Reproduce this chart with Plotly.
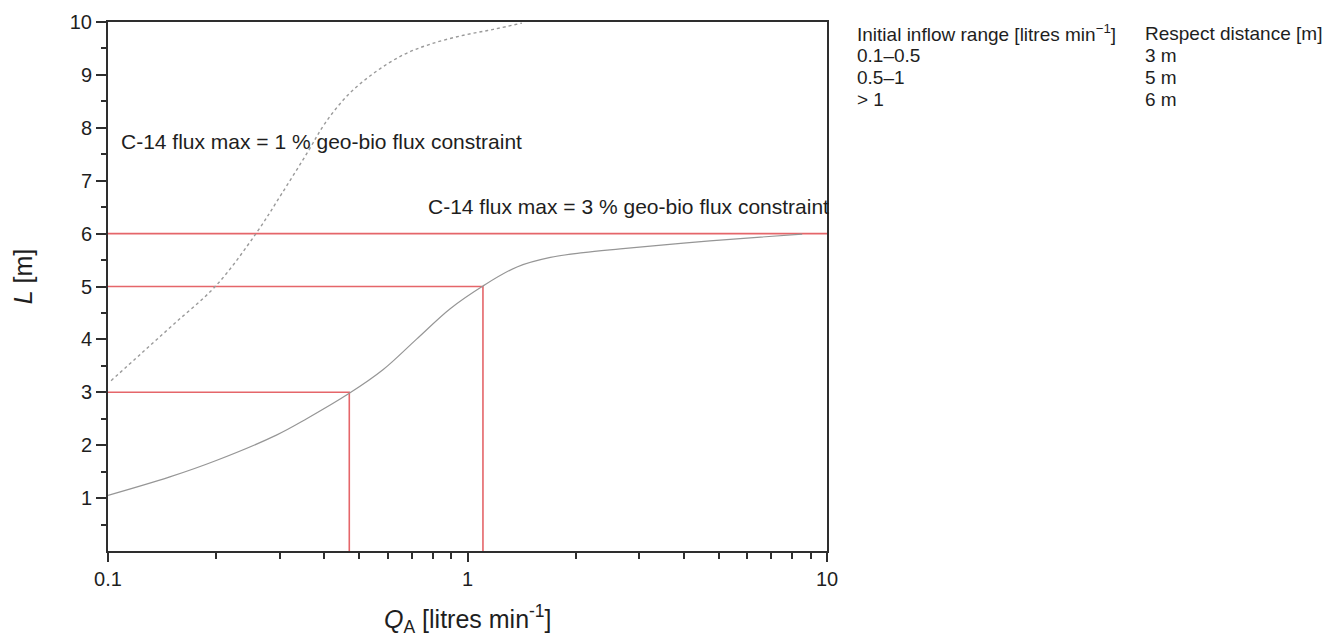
import plotly.graph_objects as go

# 3 % geo-bio flux constraint (solid curve)
q_3pct = [0.1, 0.1486, 0.2, 0.294, 0.357, 0.469, 0.583, 0.723, 0.895, 1.104,
          1.373, 1.70, 2.10, 2.66, 3.99, 6.12, 8.53]
l_3pct = [1.05, 1.40, 1.71, 2.19, 2.50, 2.98, 3.43, 4.01, 4.58, 5.01,
          5.37, 5.55, 5.64, 5.71, 5.82, 5.92, 5.99]

# 1 % geo-bio flux constraint (dotted curve)
q_1pct = [0.102, 0.1236, 0.1531, 0.2, 0.258, 0.304, 0.36, 0.401, 0.465, 0.553,
          0.663, 0.787, 0.975, 1.18, 1.417]
l_1pct = [3.22, 3.73, 4.30, 5.02, 6.0, 6.75, 7.55, 8.08, 8.62, 9.05,
          9.38, 9.58, 9.75, 9.86, 9.98]

# respect distance read-offs
q_thresh = [0.469, 1.104]
l_thresh = [3, 5]
q_min, q_max = 0.1, 10
l_full = 6

# table
table_col1 = ["Initial inflow range [litres min<sup>−1</sup>]", "0.1–0.5", "0.5–1", "> 1"]
table_col2 = ["Respect distance [m]", "3 m", "5 m", "6 m"]

x_ticks = [0.1, 1, 10]
x_ticktext = ["0.1", "1", "10"]
x_minor = [0.2, 0.3, 0.4, 0.5, 0.6, 0.7, 0.8, 0.9, 2, 3, 4, 5, 6, 7, 8, 9]
y_ticks = [1, 2, 3, 4, 5, 6, 7, 8, 9, 10]
y_minor = [0.5, 1.5, 2.5, 3.5, 4.5, 5.5, 6.5, 7.5, 8.5, 9.5]

FONT = "Liberation Sans, Arial, Helvetica, sans-serif"
RED = "#e5666a"
TXT = "#1e1e1e"
AX = "#2e2e2e"

fig = go.Figure()

# red read-off lines
fig.add_trace(go.Scatter(x=[q_min, q_max], y=[l_full, l_full], mode="lines",
                         line=dict(color=RED, width=1.6), hoverinfo="skip", showlegend=False))
for q, l in zip(q_thresh, l_thresh):
    fig.add_trace(go.Scatter(x=[q_min, q, q], y=[l, l, 0], mode="lines",
                             line=dict(color=RED, width=1.6), hoverinfo="skip", showlegend=False))

fig.add_trace(go.Scatter(x=q_1pct, y=l_1pct, mode="lines", line_shape="spline",
                         line=dict(color="#9a9a9a", width=1.4, dash="3px,3px"),
                         showlegend=False))
fig.add_trace(go.Scatter(x=q_3pct, y=l_3pct, mode="lines", line_shape="spline",
                         line=dict(color="#969696", width=1.2), showlegend=False))

annotations = [
    dict(text="C-14 flux max = 1 % geo-bio flux constraint", xref="paper", yref="paper",
         x=0.0153, y=0.774, xanchor="left", yanchor="middle", showarrow=False,
         font=dict(family=FONT, size=21, color=TXT)),
    dict(text="C-14 flux max = 3 % geo-bio flux constraint", xref="paper", yref="paper",
         x=0.442, y=0.651, xanchor="left", yanchor="middle", showarrow=False,
         font=dict(family=FONT, size=21, color=TXT)),
    dict(text="<i>Q</i><sub>A</sub> [litres min<sup>-1</sup>]", xref="paper", yref="paper",
         x=0.5007, y=-0.128, xanchor="center", yanchor="middle", showarrow=False,
         font=dict(family=FONT, size=25, color=TXT)),
    dict(text="<i>L</i> [m]", xref="paper", yref="paper", textangle=-90,
         x=-0.119, y=0.52, xanchor="center", yanchor="middle", showarrow=False,
         font=dict(family=FONT, size=25, color=TXT)),
]
row_y = [0.9786, 0.9361, 0.8951, 0.8544]
for t1, t2, yy in zip(table_col1, table_col2, row_y):
    annotations.append(dict(text=t1, xref="paper", yref="paper", x=1.0389, y=yy,
                            xanchor="left", yanchor="middle", showarrow=False,
                            font=dict(family=FONT, size=19, color=TXT)))
    annotations.append(dict(text=t2, xref="paper", yref="paper", x=1.4395, y=yy,
                            xanchor="left", yanchor="middle", showarrow=False,
                            font=dict(family=FONT, size=19, color=TXT)))

fig.update_layout(
    width=1335, height=639,
    margin=dict(l=108, r=508, t=22, b=88, pad=0),
    paper_bgcolor="white", plot_bgcolor="white",
    font=dict(family=FONT, color=TXT),
    annotations=annotations,
    xaxis=dict(type="log", range=[-1, 1], tickmode="array", tickvals=x_ticks,
               ticktext=x_ticktext, ticks="outside", ticklen=9, tickwidth=2,
               tickcolor=AX, showline=True, linecolor=AX, linewidth=2, mirror=True,
               showgrid=False, zeroline=False,
               tickfont=dict(family=FONT, size=20, color=TXT),
               minor=dict(tickmode="array", tickvals=x_minor, ticks="outside",
                          ticklen=6, tickwidth=1.5, tickcolor=AX, showgrid=False)),
    yaxis=dict(range=[0, 10], tickmode="array", tickvals=y_ticks,
               ticks="outside", ticklen=10, tickwidth=2, tickcolor=AX,
               showline=True, linecolor=AX, linewidth=2, mirror=True,
               showgrid=False, zeroline=False,
               tickfont=dict(family=FONT, size=20, color=TXT),
               minor=dict(tickmode="array", tickvals=y_minor, ticks="outside",
                          ticklen=5, tickwidth=1.5, tickcolor=AX, showgrid=False)),
)

fig.write_html("out.html")
